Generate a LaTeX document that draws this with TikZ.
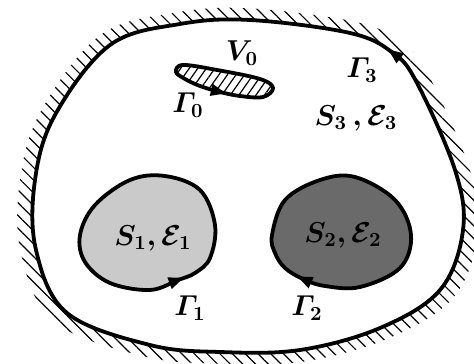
\documentclass[tikz,border=0pt]{standalone}
\usepackage{amsmath}
\usepackage{tikz}
\usetikzlibrary{arrows.meta,patterns.meta}
\definecolor{light}{HTML}{CACACA}
\definecolor{dark}{HTML}{6A6A6A}

\begin{document}
\begin{tikzpicture}[x=0.5pt,y=0.5pt,
  rim/.style={line width=1.9pt,line join=round},
  head/.style={line width=0.8pt,-{Triangle[length=7.5pt,width=6pt]}},
  lbl/.style={font=\Large\boldmath}]
  \useasboundingbox (0,0) rectangle (474,363);
  \def\wall{plot[smooth cycle,tension=0.6] coordinates {(250,343) (350,330) (393,310) (417,280) (455,193) (463,133) (440,73) (380,35) (300,13) (220,11) (150,18) (67,50) (36,113) (35,183) (55,248) (110,318) (180,339)}}

  % hatched wall outside
  \begin{scope}
    \clip[shift={(248,177)},scale=1.07,shift={(-248,-177)}] \wall;
    \fill[pattern={Lines[angle=-45,distance=4.5pt,line width=0.6pt]}] (0,0) rectangle (474,363);
  \end{scope}
  \fill[white] \wall;
  \draw[rim] \wall;

  % body V0
  \draw[rim,pattern={Lines[angle=55,distance=3.5pt,line width=0.6pt]}]
    plot[smooth cycle,tension=0.6] coordinates {(176,291) (183,298) (217,293) (260,284) (273,275) (263,266) (240,267) (220,271) (200,277) (185,284)};

  % dielectric S1
  \draw[rim,fill=light]
    plot[smooth cycle,tension=0.6] coordinates {(80,128) (95,158) (130,183) (165,187) (200,173) (215,138) (210,105) (195,90) (178,83) (150,73) (110,80) (85,101)};

  % dielectric S2
  \draw[rim,fill=dark]
    plot[smooth cycle,tension=0.6] coordinates {(272,128) (285,163) (320,183) (355,186) (395,163) (411,128) (400,95) (360,76) (325,77) (303,84) (285,95) (275,110)};

  % orientation of the contours
  \coordinate (g3a) at (397.8,306.4); \coordinate (g3b) at (388.2,313.6);
  \coordinate (g0a) at (214.2,272.4); \coordinate (g0b) at (225.8,269.6);
  \coordinate (g1a) at (172.4,80.9);  \coordinate (g1b) at (183.6,85.1);
  \coordinate (g2a) at (308.5,81.5);  \coordinate (g2b) at (297.5,86.5);
  \foreach \c in {g3,g0,g1,g2}
    \draw[head] (\c a) -- (\c b);

  \node[lbl] (v0) at (242,310) {$V_0$};
  \node[lbl] (g0) at (188,258) {$\varGamma_0$};
  \node[lbl] (g3) at (362,293) {$\varGamma_3$};
  \node[lbl] (s3) at (356,245) {$S_3\,,\mathcal{E}_3$};
  \node[lbl] (s1) at (153,125) {$S_1,\mathcal{E}_1$};
  \node[lbl] (s2) at (343,128) {$S_2,\mathcal{E}_2$};
  \node[lbl] (g1) at (190,55) {$\varGamma_1$};
  \node[lbl] (g2) at (307,55) {$\varGamma_2$};
\end{tikzpicture}
\end{document}
